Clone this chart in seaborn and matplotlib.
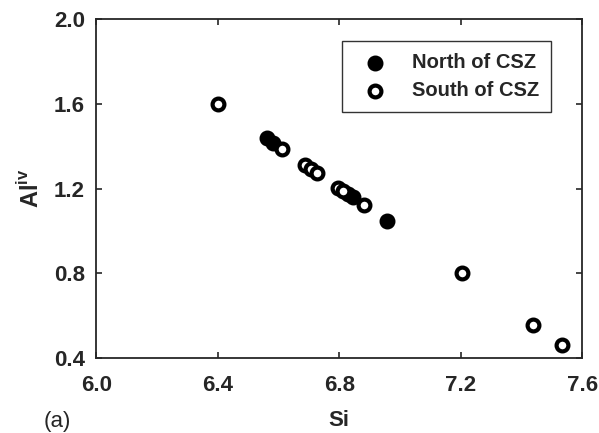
import pandas as pd
import matplotlib.pyplot as plt
import seaborn as sns

# Si vs Al(iv) values
north_si = [6.562, 6.582, 6.830, 6.846, 6.958]
north_al = [1.438, 1.416, 1.175, 1.158, 1.045]

south_si = [6.400, 6.612, 6.688, 6.707, 6.727, 6.797, 6.812, 6.880, 7.204, 7.437, 7.533]
south_al = [1.599, 1.388, 1.311, 1.292, 1.273, 1.203, 1.190, 1.122, 0.799, 0.557, 0.463]

x_ticks = [6.0, 6.4, 6.8, 7.2, 7.6]
y_ticks = [0.4, 0.8, 1.2, 1.6, 2.0]

north_df = pd.DataFrame({'Si': north_si, 'Al': north_al})
south_df = pd.DataFrame({'Si': south_si, 'Al': south_al})

sns.set_style('ticks')
plt.rcParams['font.family'] = ['Liberation Sans', 'DejaVu Sans']
plt.rcParams['mathtext.fontset'] = 'custom'
plt.rcParams['mathtext.rm'] = 'Liberation Sans'
plt.rcParams['mathtext.bf'] = 'Liberation Sans:bold'

fig = plt.figure(figsize=(5.99, 4.33), dpi=100)
ax = fig.add_axes([0.1606, 0.1732, 0.8114, 0.7829])

sns.scatterplot(data=north_df, x='Si', y='Al', ax=ax, s=72, color='black',
                edgecolor='black', linewidth=3.0, label='North of CSZ', zorder=3)
sns.scatterplot(data=south_df, x='Si', y='Al', ax=ax, s=72, color='white',
                edgecolor='black', linewidth=3.0, label='South of CSZ', zorder=4)

ax.set_xlim(6.0, 7.6)
ax.set_ylim(0.4, 2.0)
ax.set_xticks(x_ticks)
ax.set_yticks(y_ticks)
ax.set_xticklabels([f'{v:.1f}' for v in x_ticks], fontweight='bold', fontsize=16)
ax.set_yticklabels([f'{v:.1f}' for v in y_ticks], fontweight='bold', fontsize=16)
ax.tick_params(direction='in', length=4.5, width=1.2, top=True, right=True)
ax.tick_params(axis='x', pad=12)
ax.tick_params(axis='y', pad=8)
for sp in ax.spines.values():
    sp.set_linewidth(1.3)
    sp.set_visible(True)

ax.set_xlabel('Si', fontweight='bold', fontsize=16, labelpad=10)
ax.set_ylabel(r'$\mathbf{Al}^{\mathbf{iv}}$', fontsize=17, labelpad=7)

leg = ax.legend(loc='upper left', bbox_to_anchor=(0.505, 0.936),
                frameon=True, fancybox=False, borderpad=0.6, handlelength=2.1,
                handletextpad=0.8, labelspacing=0.45, borderaxespad=0,
                prop={'weight': 'bold', 'size': 14.5})
leg.get_frame().set_edgecolor('black')
leg.get_frame().set_linewidth(1.0)

fig.text(0.072, 0.015, '(a)', fontsize=16)

plt.savefig('out.png', dpi=100)
plt.close()
